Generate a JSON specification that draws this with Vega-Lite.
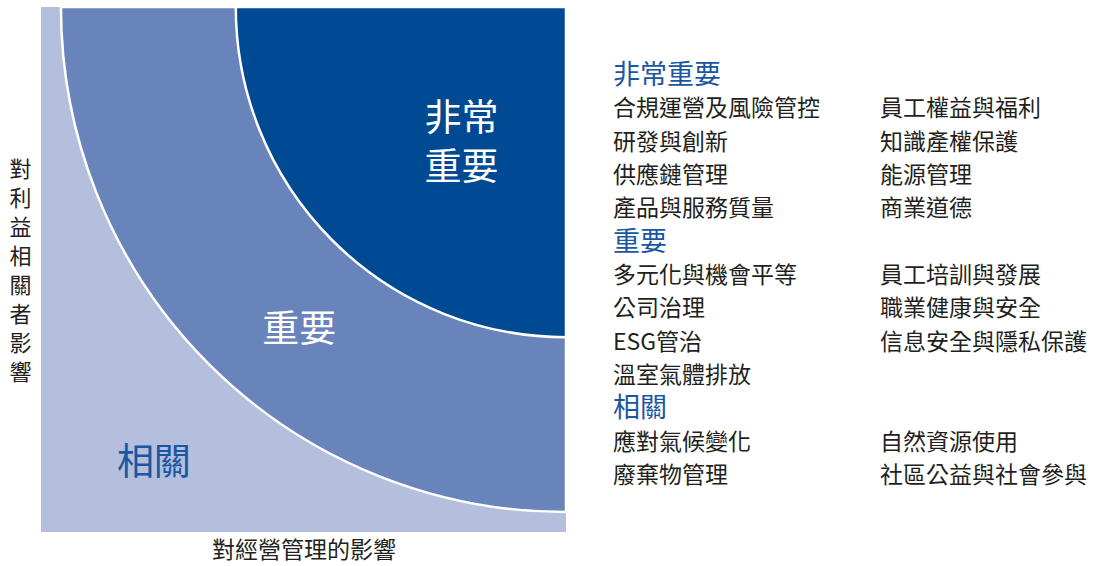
{
  "$schema": "https://vega.github.io/schema/vega-lite/v6.json",
  "background": "white",
  "padding": {"left": 9, "top": 7, "right": 0, "bottom": 3},
  "config": {
    "font": "Noto Sans CJK TC",
    "view": {"stroke": null},
    "concat": {"spacing": 0}
  },
  "datasets": {
    "zones": [
      {"zone": "重要", "x": 100, "y": 100, "r": 96.2},
      {"zone": "非常重要", "x": 100, "y": 100, "r": 62.9}
    ],
    "labels": [
      {"zone": "非常重要", "label": "非常\n重要", "x": 80.1, "y": 78.4},
      {"zone": "重要", "label": "重要", "x": 49.2, "y": 38.2},
      {"zone": "相關", "label": "相關", "x": 21.5, "y": 12.95}
    ],
    "topics": [
      {"level": "非常重要", "kind": "heading", "col": 0, "row": 0, "text": "非常重要"},
      {"level": "非常重要", "kind": "item", "col": 0, "row": 1, "text": "合規運營及風險管控"},
      {"level": "非常重要", "kind": "item", "col": 1, "row": 1, "text": "員工權益與福利"},
      {"level": "非常重要", "kind": "item", "col": 0, "row": 2, "text": "研發與創新"},
      {"level": "非常重要", "kind": "item", "col": 1, "row": 2, "text": "知識產權保護"},
      {"level": "非常重要", "kind": "item", "col": 0, "row": 3, "text": "供應鏈管理"},
      {"level": "非常重要", "kind": "item", "col": 1, "row": 3, "text": "能源管理"},
      {"level": "非常重要", "kind": "item", "col": 0, "row": 4, "text": "產品與服務質量"},
      {"level": "非常重要", "kind": "item", "col": 1, "row": 4, "text": "商業道德"},
      {"level": "重要", "kind": "heading", "col": 0, "row": 5, "text": "重要"},
      {"level": "重要", "kind": "item", "col": 0, "row": 6, "text": "多元化與機會平等"},
      {"level": "重要", "kind": "item", "col": 1, "row": 6, "text": "員工培訓與發展"},
      {"level": "重要", "kind": "item", "col": 0, "row": 7, "text": "公司治理"},
      {"level": "重要", "kind": "item", "col": 1, "row": 7, "text": "職業健康與安全"},
      {"level": "重要", "kind": "item", "col": 0, "row": 8, "text": "ESG管治"},
      {"level": "重要", "kind": "item", "col": 1, "row": 8, "text": "信息安全與隱私保護"},
      {"level": "重要", "kind": "item", "col": 0, "row": 9, "text": "溫室氣體排放"},
      {"level": "相關", "kind": "heading", "col": 0, "row": 10, "text": "相關"},
      {"level": "相關", "kind": "item", "col": 0, "row": 11, "text": "應對氣候變化"},
      {"level": "相關", "kind": "item", "col": 1, "row": 11, "text": "自然資源使用"},
      {"level": "相關", "kind": "item", "col": 0, "row": 12, "text": "廢棄物管理"},
      {"level": "相關", "kind": "item", "col": 1, "row": 12, "text": "社區公益與社會參與"}
    ]
  },
  "hconcat": [
    {
      "width": 525,
      "height": 525,
      "view": {"fill": "#b4bedd", "stroke": null},
      "encoding": {
        "x": {
          "field": "x",
          "type": "quantitative",
          "scale": {"domain": [0, 100], "nice": false},
          "axis": {
            "domain": false, "ticks": false, "labels": false, "grid": false,
            "title": "對經營管理的影響",
            "titleFontSize": 23,
            "titleFontWeight": "normal",
            "titleColor": "#231f20",
            "titlePadding": 7
          }
        },
        "y": {
          "field": "y",
          "type": "quantitative",
          "scale": {"domain": [0, 100], "nice": false},
          "axis": {
            "domain": false, "ticks": false, "labels": false, "grid": false,
            "title": ["對", "利", "益", "相", "關", "者", "影", "響"],
            "titleAngle": 0,
            "titleAlign": "left",
            "titleBaseline": "middle",
            "titleX": -32,
            "titleY": 162,
            "titleFontSize": 22,
            "titleLineHeight": 29,
            "titleFontWeight": "normal",
            "titleColor": "#231f20"
          }
        }
      },
      "layer": [
        {
          "data": {"name": "zones"},
          "mark": {"type": "arc", "theta": 3.14159265, "theta2": 4.71238898, "stroke": "white", "strokeWidth": 2.5, "clip": true},
          "encoding": {
            "radius": {"field": "r", "type": "quantitative", "stack": null, "scale": {"type": "linear", "domain": [0, 100], "range": [0, 525], "zero": true}},
            "color": {
              "field": "zone",
              "type": "nominal",
              "scale": {"domain": ["重要", "非常重要"], "range": ["#6983bb", "#004a93"]},
              "legend": null
            }
          }
        },
        {
          "data": {"name": "labels"},
          "transform": [{"filter": "datum.zone !== '相關'"}],
          "mark": {"type": "text", "color": "white", "fontSize": 37, "lineBreak": "\n", "lineHeight": 49, "align": "center", "baseline": "middle"},
          "encoding": {"text": {"field": "label"}}
        },
        {
          "data": {"name": "labels"},
          "transform": [{"filter": "datum.zone === '相關'"}],
          "mark": {"type": "text", "color": "#1a56a1", "fontSize": 37, "align": "center", "baseline": "middle"},
          "encoding": {"text": {"field": "label"}}
        }
      ]
    },
    {
      "width": 525,
      "height": 525,
      "data": {"name": "topics"},
      "encoding": {
        "x": {"field": "col", "type": "quantitative", "scale": {"domain": [0, 1], "range": [47, 314]}, "axis": null},
        "y": {"field": "row", "type": "quantitative", "scale": {"domain": [0, 12], "range": [69, 469]}, "axis": null},
        "text": {"field": "text"}
      },
      "layer": [
        {
          "transform": [{"filter": "datum.kind === 'heading'"}],
          "mark": {"type": "text", "color": "#1a56a1", "fontSize": 27, "align": "left", "baseline": "middle"}
        },
        {
          "transform": [{"filter": "datum.kind === 'item'"}],
          "mark": {"type": "text", "color": "#231f20", "fontSize": 23, "align": "left", "baseline": "middle"}
        }
      ]
    }
  ]
}
